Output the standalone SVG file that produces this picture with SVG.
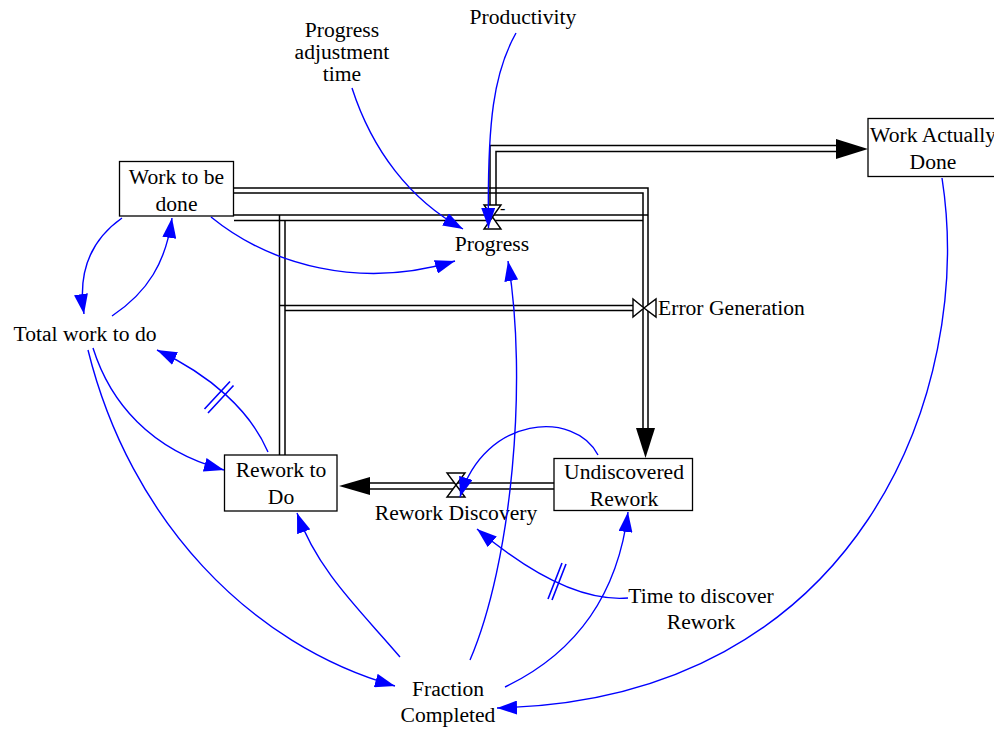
<svg xmlns="http://www.w3.org/2000/svg" width="994" height="729" viewBox="0 0 994 729">
  <style>
    text { font-family: "Liberation Serif", serif; font-size: 21.6px; fill: #000; }
    .mid { text-anchor: middle; }
    .box { fill: #fff; stroke: #000; stroke-width: 1.3; }
    .pipe { fill: none; stroke: #000; stroke-width: 1.5; }
    .valve { fill: #fff; stroke: #000; stroke-width: 1.4; stroke-linejoin: miter; }
    .link { fill: none; stroke: #0000ff; stroke-width: 1.4; marker-end: url(#blueHead); }
    .delay { fill: none; stroke: #0000ff; stroke-width: 1.6; }
    .flowhead { fill: #000; stroke: none; }
  </style>
  <defs>
    <marker id="blueHead" viewBox="0 0 20 14" refX="20" refY="7" markerWidth="20" markerHeight="14" markerUnits="userSpaceOnUse" orient="auto">
      <path d="M0,0 L20,7 L0,14 z" fill="#0000ff"/>
    </marker>
  </defs>

  <rect width="994" height="729" fill="#fff"/>

  <!-- material flows (double pipes, valves, flow arrowheads) -->
  <g id="flows">
    <!-- Work to be done -> Undiscovered Rework (upper pipe) -->
    <path class="pipe" d="M234,188 H648 V430"/>
    <path class="pipe" d="M234,193 H643 V430"/>
    <!-- Work to be done / Rework to Do -> Progress pipe -->
    <path class="pipe" d="M234,215 H648"/>
    <path class="pipe" d="M234,220.5 H643"/>
    <!-- Progress -> Work Actually Done -->
    <path class="pipe" d="M490,206 V145.5 H838"/>
    <path class="pipe" d="M496,206 V151.5 H838"/>
    <!-- Rework to Do riser -->
    <path class="pipe" d="M279.5,215 V455"/>
    <path class="pipe" d="M285,220.5 V455"/>
    <!-- Rework to Do -> Error Generation -->
    <path class="pipe" d="M279.5,305.5 H634"/>
    <path class="pipe" d="M285,310.5 H634"/>
    <!-- Undiscovered Rework -> Rework to Do -->
    <path class="pipe" d="M368,483 H554"/>
    <path class="pipe" d="M368,489 H554"/>

    <!-- flow arrowheads -->
    <path class="flowhead" d="M868,149 L836,139 L836,159 z"/>
    <path class="flowhead" d="M645.5,458 L636,428 L655,428 z"/>
    <path class="flowhead" d="M339,486 L370,477 L370,495 z"/>

    <!-- valves -->
    <g id="valve-progress">
      <path class="valve" d="M484,205 H501 L492.5,217 z M484,229 H501 L492.5,217 z"/>
      <text x="500" y="214" style="font-size:16px">-</text>
    </g>
    <g id="valve-error">
      <path class="valve" d="M633,299 V317 L644,308 z M656,299 V317 L644,308 z"/>
    </g>
    <g id="valve-discovery">
      <path class="valve" d="M447,473 H465 L456,485 z M447,497 H465 L456,485 z"/>
    </g>
  </g>

  <!-- stocks -->
  <g id="work-to-be-done">
    <rect class="box" x="119.5" y="161.5" width="114" height="54.5"/>
    <text class="mid" x="176.5" y="184">Work to be</text>
    <text class="mid" x="176.5" y="211">done</text>
  </g>
  <g id="work-actually-done">
    <rect class="box" x="868" y="118.5" width="140" height="58"/>
    <text class="mid" x="933" y="142">Work Actually</text>
    <text class="mid" x="933" y="169">Done</text>
  </g>
  <g id="rework-to-do">
    <rect class="box" x="224.5" y="455" width="112.5" height="56"/>
    <text class="mid" x="281" y="477">Rework to</text>
    <text class="mid" x="281" y="504">Do</text>
  </g>
  <g id="undiscovered-rework">
    <rect class="box" x="554" y="458.5" width="138.5" height="52"/>
    <text class="mid" x="624" y="479">Undiscovered</text>
    <text class="mid" x="624" y="506">Rework</text>
  </g>

  <!-- rates and auxiliaries -->
  <g id="progress"><text class="mid" x="492" y="251">Progress</text></g>
  <g id="error-generation"><text x="658" y="315">Error Generation</text></g>
  <g id="rework-discovery"><text class="mid" x="456" y="520">Rework Discovery</text></g>
  <g id="productivity"><text class="mid" x="523" y="24">Productivity</text></g>
  <g id="progress-adjustment-time">
    <text class="mid" x="342" y="37">Progress</text>
    <text class="mid" x="342" y="59">adjustment</text>
    <text class="mid" x="342" y="81">time</text>
  </g>
  <g id="total-work-to-do"><text class="mid" x="85" y="341">Total work to do</text></g>
  <g id="time-to-discover-rework">
    <text class="mid" x="701" y="603">Time to discover</text>
    <text class="mid" x="701" y="629">Rework</text>
  </g>
  <g id="fraction-completed">
    <text class="mid" x="448" y="696">Fraction</text>
    <text class="mid" x="448" y="722">Completed</text>
  </g>

  <!-- information links -->
  <g id="links">
    <path class="link" d="M516,33 C494,72 487,120 488.5,228"/>
    <path class="link" d="M352,88 C372,150 410,200 463,229"/>
    <path class="link" d="M211,217 C270,265 360,290 455,261"/>
    <path class="link" d="M122,218 C88,242 78,275 84,314"/>
    <path class="link" d="M112,316 C148,292 166,262 172,218"/>
    <path class="link" d="M268,452 C250,410 210,375 157,350"/>
    <path class="link" d="M93,348 C110,402 150,450 224,470"/>
    <path class="link" d="M88,350 C130,520 250,645 395,686"/>
    <path class="link" d="M400,657 C362,612 318,572 297,513"/>
    <path class="link" d="M470,660 C512,562 528,380 508,261"/>
    <path class="link" d="M505,687 C578,652 618,592 628,512"/>
    <path class="link" d="M942,178 C975,390 860,700 497,708"/>
    <path class="link" d="M598,455 C575,410 485,415 460,497"/>
    <path class="link" d="M628,598 C580,602 528,572 477,529"/>
    <!-- delay marks -->
    <path class="delay" d="M204.5,409 L230,381.5 M208,413 L233.5,385.5"/>
    <path class="delay" d="M548,599 L562,563 M552,600 L566,564"/>
  </g>
</svg>
